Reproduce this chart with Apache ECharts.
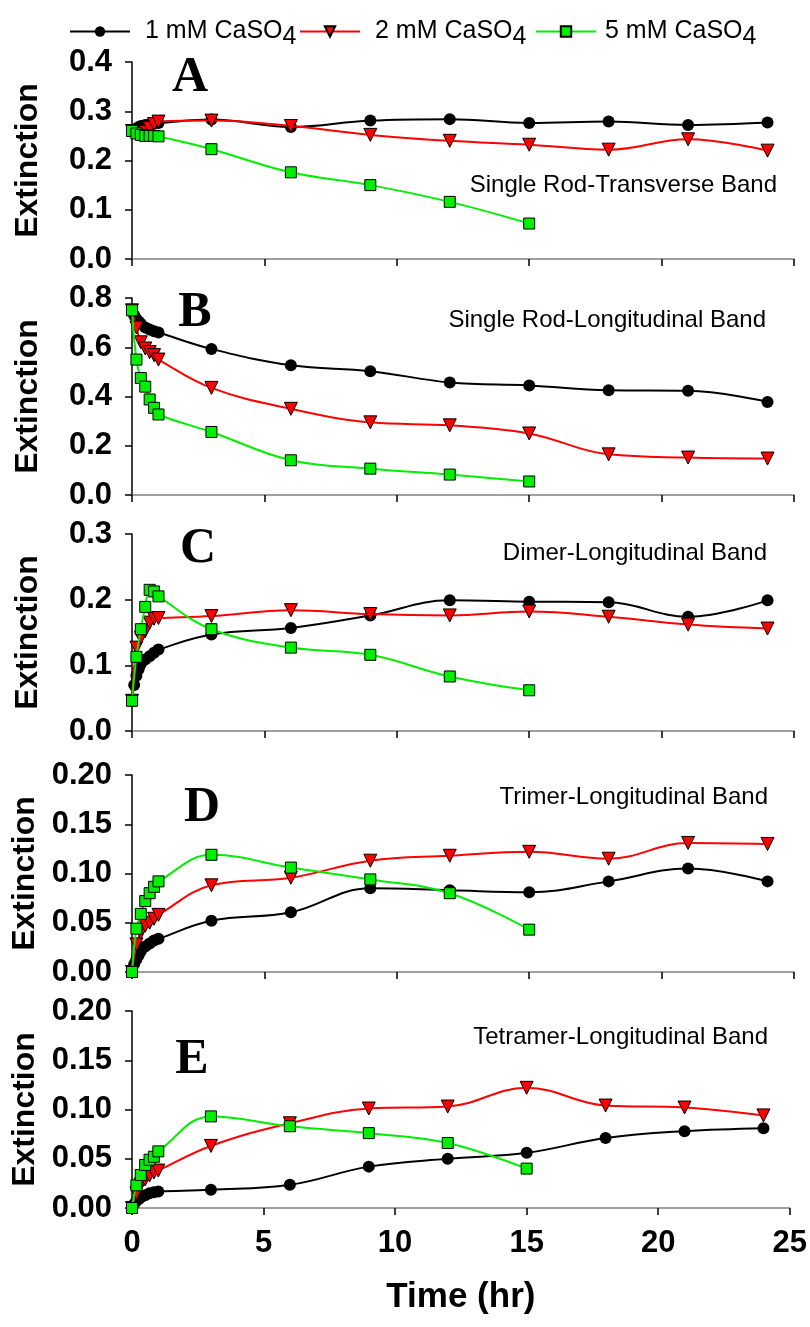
<!DOCTYPE html>
<html>
<head>
<meta charset="utf-8">
<script src="https://cdn.jsdelivr.net/npm/echarts@6/dist/echarts.min.js"></script>
<style>
html,body{margin:0;padding:0;background:#fff;}
#chart{width:810px;height:1327px;}
</style>
</head>
<body>
<div id="chart"></div>
<script>
// ---- data ----
const seriesNames = ['1 mM CaSO4', '2 mM CaSO4', '5 mM CaSO4'];
const panelLetters = ['A', 'B', 'C', 'D', 'E'];
const panelTitles = ['Single Rod-Transverse Band', 'Single Rod-Longitudinal Band', 'Dimer-Longitudinal Band', 'Trimer-Longitudinal Band', 'Tetramer-Longitudinal Band'];
const xTicks = [0, 5, 10, 15, 20, 25];
const yMax = [0.4, 0.8, 0.3, 0.2, 0.2];
const yStep = [0.1, 0.2, 0.1, 0.05, 0.05];
const yDecimals = [1, 1, 1, 2, 2];

const tBlack = [0, 0.083, 0.167, 0.25, 0.333, 0.5, 0.667, 0.833, 1, 3, 6, 9, 12, 15, 18, 21, 24];
const tRed = [0, 0.167, 0.333, 0.5, 0.667, 0.833, 1, 3, 6, 9, 12, 15, 18, 21, 24];
const tGreen = [0, 0.167, 0.333, 0.5, 0.667, 0.833, 1, 3, 6, 9, 12, 15];

const A_black = [0.26, 0.262, 0.265, 0.268, 0.27, 0.272, 0.274, 0.275, 0.276, 0.283, 0.268, 0.281, 0.284, 0.276, 0.279, 0.272, 0.277];
const A_red = [0.26, 0.256, 0.252, 0.258, 0.266, 0.274, 0.279, 0.281, 0.27, 0.252, 0.24, 0.232, 0.222, 0.243, 0.22];
const A_green = [0.26, 0.255, 0.252, 0.25, 0.25, 0.25, 0.249, 0.223, 0.176, 0.15, 0.116, 0.072];

const B_black = [0.75, 0.73, 0.715, 0.705, 0.695, 0.68, 0.672, 0.665, 0.66, 0.593, 0.527, 0.503, 0.457, 0.445, 0.425, 0.423, 0.378];
const B_red = [0.75, 0.68, 0.62, 0.595, 0.58, 0.568, 0.55, 0.435, 0.35, 0.295, 0.283, 0.25, 0.165, 0.152, 0.148];
const B_green = [0.75, 0.55, 0.475, 0.44, 0.388, 0.354, 0.327, 0.256, 0.141, 0.107, 0.083, 0.055];

const C_black = [0.046, 0.07, 0.084, 0.094, 0.102, 0.109, 0.114, 0.119, 0.124, 0.147, 0.157, 0.176, 0.199, 0.197, 0.196, 0.174, 0.199];
const C_red = [0.046, 0.127, 0.142, 0.152, 0.165, 0.171, 0.172, 0.175, 0.184, 0.178, 0.176, 0.182, 0.174, 0.162, 0.156];
const C_green = [0.046, 0.113, 0.155, 0.189, 0.215, 0.2125, 0.205, 0.155, 0.127, 0.116, 0.083, 0.062];

const D_black = [0, 0.008, 0.013, 0.017, 0.021, 0.026, 0.029, 0.032, 0.0337, 0.052, 0.0606, 0.085, 0.083, 0.081, 0.092, 0.105, 0.092];
const D_red = [0, 0.028, 0.04, 0.047, 0.05, 0.054, 0.058, 0.088, 0.0957, 0.113, 0.118, 0.122, 0.115, 0.131, 0.13];
const D_green = [0, 0.044, 0.059, 0.072, 0.08, 0.0865, 0.092, 0.119, 0.106, 0.094, 0.08, 0.043];

const E_black = [0, 0.004, 0.007, 0.009, 0.011, 0.013, 0.015, 0.016, 0.0168, 0.0185, 0.0235, 0.042, 0.05, 0.056, 0.071, 0.078, 0.081];
const E_red = [0, 0.015, 0.024, 0.029, 0.033, 0.036, 0.038, 0.063, 0.086, 0.101, 0.103, 0.122, 0.104, 0.102, 0.094];
const E_green = [0, 0.023, 0.0335, 0.0437, 0.049, 0.052, 0.0575, 0.093, 0.083, 0.076, 0.066, 0.04];

const panelData = [
  [A_black, A_red, A_green],
  [B_black, B_red, B_green],
  [C_black, C_red, C_green],
  [D_black, D_red, D_green],
  [E_black, E_red, E_green]
];
const times = [tBlack, tRed, tGreen];

// ---- layout / style ----
const gridTops = [62, 298, 534, 775, 1011];
const gridH = 197;
const gridLeft = 132, gridRight = 16;
const colors = ['#000000', '#ff0000', '#00ee00'];
const symbols = ['circle', 'triangle', 'rect'];
const symbolSizes = [12, 13, 11];
const symbolRot = [0, 180, 0];
const FONT = 'Liberation Sans, Arial, sans-serif';

const chart = echarts.init(document.getElementById('chart'), null, {renderer: 'canvas'});

const grids = [], xAxes = [], yAxes = [], series = [];
for (let p = 0; p < 5; p++) {
  grids.push({left: gridLeft, right: gridRight, top: gridTops[p], height: gridH, containLabel: false});
  const last = p === 4;
  xAxes.push({
    type: 'value', gridIndex: p, min: 0, max: 25, interval: 5,
    axisLine: {show: true, onZero: false, lineStyle: {color: '#808080', width: 1.5}},
    axisTick: {show: true, inside: false, length: 7, lineStyle: {color: '#000', width: 1.5}},
    axisLabel: {show: last, fontFamily: FONT, fontWeight: 'bold', fontSize: 31, color: '#000', margin: 20},
    splitLine: {show: false},
    name: last ? 'Time (hr)' : '', nameLocation: 'middle', nameGap: 72,
    nameTextStyle: {fontFamily: FONT, fontWeight: 'bold', fontSize: 35, color: '#000'}
  });
  const dec = yDecimals[p];
  yAxes.push({
    type: 'value', gridIndex: p, min: 0, max: yMax[p], interval: yStep[p],
    axisLine: {show: true, onZero: false, lineStyle: {color: '#000', width: 1.5}},
    axisTick: {show: true, inside: false, length: 7, lineStyle: {color: '#000', width: 1.5}},
    axisLabel: {fontFamily: FONT, fontWeight: 'bold', fontSize: 31, color: '#000', margin: 20,
      formatter: v => v.toFixed(dec)},
    splitLine: {show: false},
    name: 'Extinction', nameLocation: 'middle', nameGap: 88,
    nameTextStyle: {fontFamily: FONT, fontWeight: 'bold', fontSize: 32, color: '#000'}
  });
  for (let s = 0; s < 3; s++) {
    const vals = panelData[p][s];
    const ts = times[s];
    series.push({
      name: seriesNames[s], type: 'line', xAxisIndex: p, yAxisIndex: p,
      data: ts.map((t, i) => [t, vals[i]]),
      smooth: 0.4,
      symbol: symbols[s], symbolSize: symbolSizes[s], symbolRotate: symbolRot[s],
      lineStyle: {color: colors[s], width: 2},
      itemStyle: {color: colors[s], borderColor: '#000', borderWidth: s === 0 ? 0 : 1},
      z: 2 + s, animation: false
    });
  }
}

const graphics = [];
const letterPos = [[190, 78], [195, 313], [198, 549], [202, 808], [192, 1060]];
const titlePos = [[777, 185], [766, 320], [767, 553], [768, 797], [768, 1037]];
for (let p = 0; p < 5; p++) {
  graphics.push({type: 'text', x: letterPos[p][0], y: letterPos[p][1],
    style: {text: panelLetters[p], font: 'bold 50px "Liberation Serif", "Times New Roman", serif', fill: '#000', textAlign: 'center', textVerticalAlign: 'middle'}});
  graphics.push({type: 'text', x: titlePos[p][0], y: titlePos[p][1],
    style: {text: panelTitles[p], font: '24px "Liberation Sans", Arial, sans-serif', fill: '#000', textAlign: 'right', textVerticalAlign: 'middle'}});
}

const legendLefts = [64, 294, 530];
const legends = seriesNames.map((n, i) => ({
  data: [n], left: legendLefts[i], top: 14, itemWidth: 60, itemHeight: 13,
  formatter: nm => nm.replace('CaSO4', 'CaSO{sub|4}'),
  textStyle: {fontFamily: FONT, fontSize: 25, color: '#000', padding: [0, 0, 0, i === 2 ? 4 : 10],
    rich: {sub: {fontFamily: FONT, fontSize: 25, color: '#000', padding: [12, 0, 0, 0]}}}
}));

chart.setOption({
  animation: false,
  backgroundColor: '#fff',
  legend: legends,
  grid: grids, xAxis: xAxes, yAxis: yAxes, series: series, graphic: graphics
});
</script>
</body>
</html>
